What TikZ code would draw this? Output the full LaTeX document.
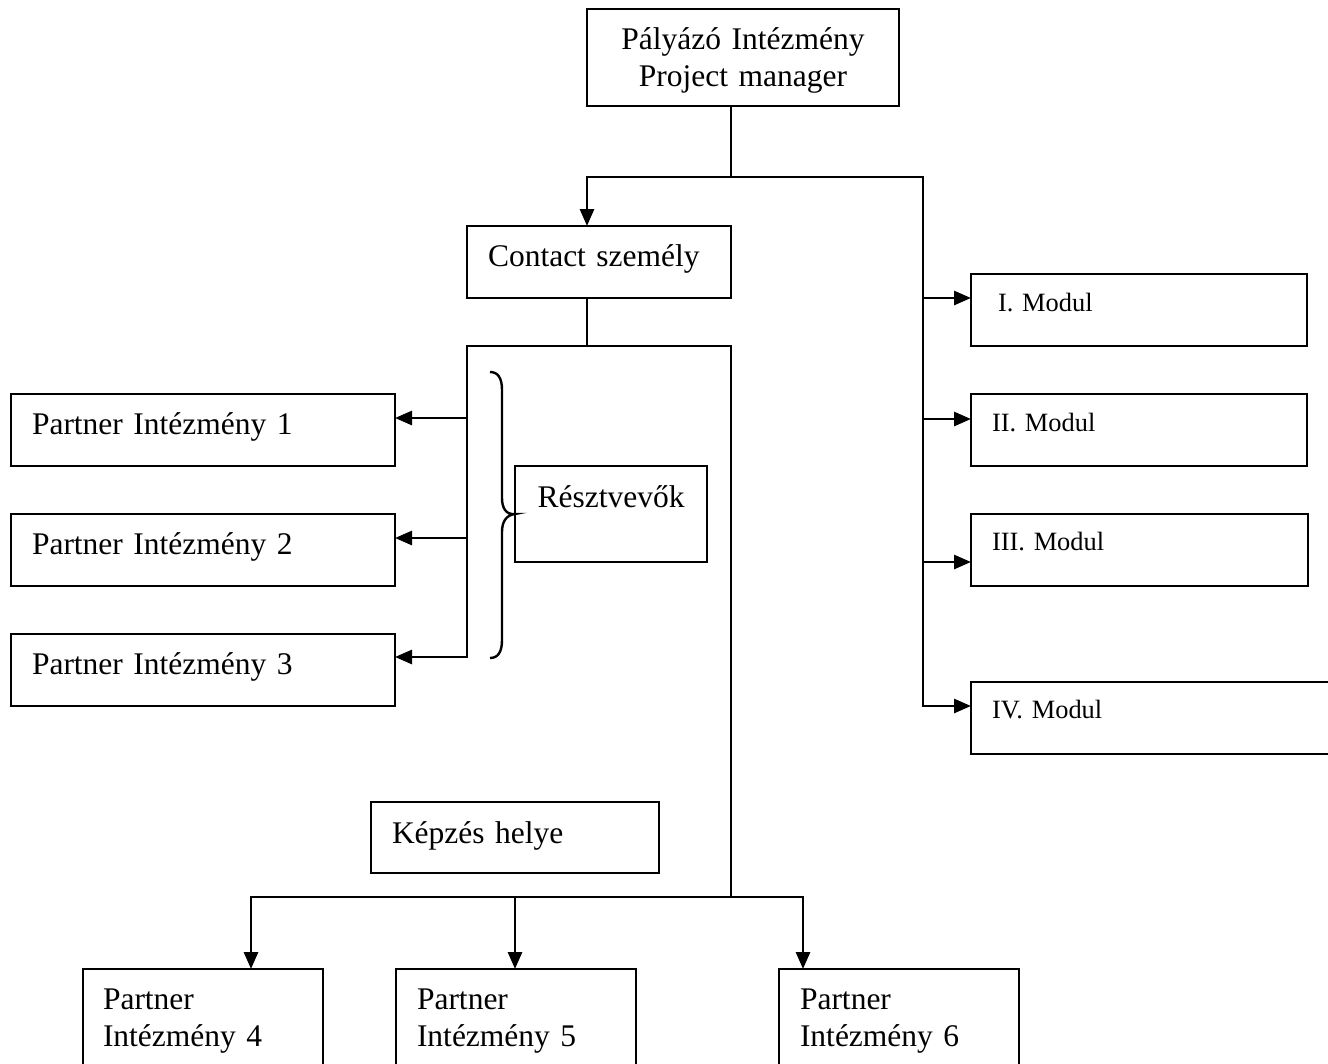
\documentclass[tikz,border=0pt]{standalone}
\usepackage{fontspec}
\setmainfont{Liberation Serif}
\usetikzlibrary{arrows.meta}
\newcommand{\bigf}{\fontsize{31.5}{37.5}\selectfont}
\newcommand{\smallf}{\fontsize{26.4}{31}\selectfont}
\tikzset{
  box/.style={draw, line width=2.8pt, anchor=north west, inner ysep=0pt, outer sep=0pt, font=\bigf, align=left},
  geom/.style n args={4}{text width=#1, inner xsep=#2, text height=#3, text depth=#4},
  ln/.style={line width=2.8pt, line cap=rect},
  arr/.style={line width=2.8pt, line cap=rect, -{Triangle[length=17pt,width=14pt]}},
  bracestyle/.style={line width=2.4pt},
}
\begin{document}
\begin{tikzpicture}[x=1pt,y=-1pt]
\useasboundingbox (0,0) rectangle (1328,1063);
\clip (0,0) rectangle (1328,1063);

% nodes
\node[box, geom={292pt}{10pt}{40pt}{57pt}, align=center] (pm) at (587,9) {Pályázó Intézmény\\Project manager};
\node[box, geom={222pt}{21pt}{40pt}{32pt}] (cs) at (467,226) {Contact személy};

\node[box, font=\smallf, geom={282pt}{27pt}{37pt}{35pt}] (m1) at (971,274) {I. Modul};
\node[box, font=\smallf, geom={294pt}{21pt}{37pt}{35pt}] (m2) at (971,394) {II. Modul};
\node[box, font=\smallf, geom={295pt}{21pt}{36pt}{36pt}] (m3) at (971,514) {III. Modul};
\node[box, font=\smallf, geom={338pt}{21pt}{36pt}{36pt}] (m4) at (971,682) {IV. Modul};

\node[box, geom={342pt}{21pt}{40pt}{32pt}] (p1) at (11,394) {Partner Intézmény 1};
\node[box, geom={342pt}{21pt}{40pt}{32pt}] (p2) at (11,514) {Partner Intézmény 2};
\node[box, geom={342pt}{21pt}{40pt}{32pt}] (p3) at (11,634) {Partner Intézmény 3};

\node[box, geom={172pt}{10pt}{41pt}{55pt}, align=center] (r) at (515,466) {Résztvevők};
\node[box, geom={246pt}{21pt}{41pt}{30pt}] (kh) at (371,802) {Képzés helye};

\node[box, geom={200pt}{20pt}{40pt}{80pt}] (p4) at (83,969) {Partner\\Intézmény 4};
\node[box, geom={198pt}{21pt}{40pt}{80pt}] (p5) at (396,969) {Partner\\Intézmény 5};
\node[box, geom={198pt}{21pt}{40pt}{80pt}] (p6) at (779,969) {Partner\\Intézmény 6};

% top connectors
\coordinate (a) at (731,177);
\coordinate (b) at (587,177);
\coordinate (c) at (923,177);
\draw[ln] (a |- pm.south) -- (a);
\draw[ln] (b) -- (c);
\draw[arr] (b) -- (b |- cs.north);

% right trunk to modules
\coordinate (c1) at (923,298);
\coordinate (c2) at (923,419);
\coordinate (c3) at (923,562);
\coordinate (c4) at (923,706);
\draw[arr] (c) -- (c4) -- (c4 -| m4.west);
\draw[arr] (c1) -- (c1 -| m1.west);
\draw[arr] (c2) -- (c2 -| m2.west);
\draw[arr] (c3) -- (c3 -| m3.west);

% contact person down to frame
\coordinate (d) at (587,346);
\coordinate (tl) at (467,346);
\coordinate (tr) at (731,346);
\draw[ln] (cs.south -| d) -- (d);
\draw[ln] (tl) -- (tr);

% left side to partners 1-3
\coordinate (l1) at (467,418);
\coordinate (l2) at (467,538);
\coordinate (l3) at (467,657);
\draw[arr] (tl) -- (l3) -- (l3 -| p3.east);
\draw[arr] (l1) -- (l1 -| p1.east);
\draw[arr] (l2) -- (l2 -| p2.east);

% brace
\draw[bracestyle] (490,372) .. controls (498,372) and (502,378) .. (502,390)
  -- (502,498) .. controls (502,508) and (506,515) .. (r.west)
  .. controls (506,515) and (502,522) .. (502,532)
  -- (502,640) .. controls (502,652) and (498,658) .. (490,658);

% right side down to bottom partners
\coordinate (br) at (731,897);
\coordinate (b4) at (251,897);
\coordinate (b5) at (515,897);
\coordinate (b6) at (803,897);
\draw[ln] (tr) -- (br);
\draw[ln] (b4) -- (b6);
\draw[arr] (b4) -- (b4 |- p4.north);
\draw[arr] (b5) -- (b5 |- p5.north);
\draw[arr] (b6) -- (b6 |- p6.north);
\end{tikzpicture}
\end{document}
